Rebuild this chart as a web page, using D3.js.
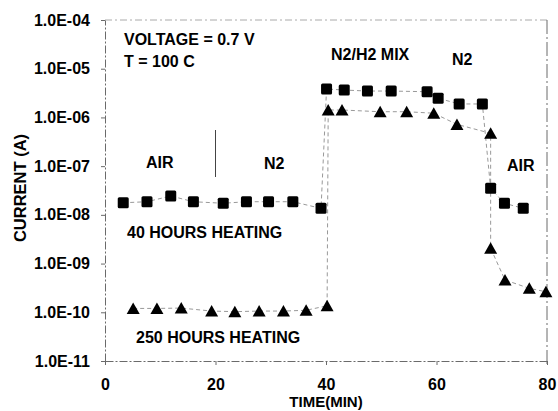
<!DOCTYPE html>
<html>
<head>
<meta charset="utf-8">
<script src="https://cdn.jsdelivr.net/npm/d3@7"></script>
<style>
  body { margin: 0; background: #fff; }
  svg { display: block; font-family: "Liberation Sans", Arial, sans-serif; font-weight: bold; }
</style>
</head>
<body>
<svg id="chart" width="558" height="411"></svg>
<script>
// data
var time40 = [3.3, 7.6, 11.9, 16.0, 21.4, 25.6, 29.6, 34.0, 39.1, 40.1, 43.3, 47.5, 51.8, 58.3, 60.3, 64.1, 68.3, 69.8, 72.3, 75.7];
var current40 = [1.77e-8, 1.86e-8, 2.44e-8, 1.86e-8, 1.73e-8, 1.86e-8, 1.86e-8, 1.86e-8, 1.36e-8,
  3.83e-6, 3.65e-6, 3.48e-6, 3.48e-6, 3.37e-6, 2.47e-6, 1.89e-6, 1.89e-6, 3.5e-8, 1.73e-8, 1.36e-8];
var time250 = [5.1, 9.4, 13.8, 19.3, 23.5, 27.9, 32.3, 36.4, 40.2, 40.4, 42.9, 49.8, 54.6, 59.5, 63.7, 69.8, 69.8, 72.4, 76.8, 79.8];
var current250 = [1.2e-10, 1.2e-10, 1.22e-10, 1.06e-10, 1.03e-10, 1.06e-10, 1.06e-10, 1.1e-10, 1.36e-10,
  1.42e-6, 1.42e-6, 1.31e-6, 1.31e-6, 1.22e-6, 7.2e-7, 4.72e-7, 2.06e-9, 4.6e-10, 3.1e-10, 2.64e-10];
var xTicks = [0, 20, 40, 60, 80];
var yTicks = [1e-11, 1e-10, 1e-9, 1e-8, 1e-7, 1e-6, 1e-5, 1e-4];

var svg = d3.select('#chart');
var x = d3.scaleLinear().domain([0, 80]).range([105, 547]);
var y = d3.scaleLog().domain([1e-11, 1e-4]).range([361, 20]);

var axisColor = '#6a6a6a';

// frame
svg.append('line').attr('x1', 105).attr('x2', 547).attr('y1', 20).attr('y2', 20)
  .attr('stroke', '#aaa').attr('stroke-dasharray', '7,3,2,3');
svg.append('line').attr('x1', 547).attr('x2', 547).attr('y1', 20).attr('y2', 365)
  .attr('stroke', axisColor).attr('stroke-dasharray', '14,3,2,3');

// axes
var yAxis = d3.axisLeft(y).tickValues(yTicks).tickSize(4).tickSizeOuter(0).tickPadding(11)
  .tickFormat(function(d) {
    var e = Math.round(Math.log10(d));
    return '1.0E-' + (Math.abs(e) < 10 ? '0' : '') + Math.abs(e);
  });
var gy = svg.append('g').attr('transform', 'translate(105,0)').call(yAxis);

var xAxis = d3.axisBottom(x).tickValues(xTicks).tickSize(4).tickSizeOuter(0).tickPadding(14);
var gx = svg.append('g').attr('transform', 'translate(0,361)').call(xAxis);

[gx, gy].forEach(function(g) {
  g.select('.domain').attr('stroke', axisColor).attr('stroke-dasharray', '8,2,2,2');
  g.selectAll('.tick line').attr('stroke', axisColor);
  g.selectAll('.tick text').attr('fill', '#000').style('font-size', '16px').style('font-weight', 'bold')
    .style('font-family', '"Liberation Sans", Arial, sans-serif');
});

// axis titles
svg.append('text').attr('x', 326).attr('y', 407).attr('text-anchor', 'middle')
  .style('font-size', '15px').text('TIME(MIN)');
svg.append('text').attr('transform', 'translate(26,188) rotate(-90)').attr('text-anchor', 'middle')
  .style('font-size', '16.5px').text('CURRENT (A)');

// series lines
var line = d3.line().x(function(d) { return x(d[0]); }).y(function(d) { return y(d[1]); });
var pts40 = d3.zip(time40, current40);
var pts250 = d3.zip(time250, current250);
[pts40, pts250].forEach(function(pts) {
  svg.append('path').datum(pts).attr('d', line).attr('fill', 'none')
    .attr('stroke', '#999').attr('stroke-width', 1).attr('stroke-dasharray', '4,3');
});

// markers
svg.selectAll('.sq').data(pts40).enter().append('rect')
  .attr('class', 'sq')
  .attr('x', function(d) { return x(d[0]) - 5.5; })
  .attr('y', function(d) { return y(d[1]) - 5.5; })
  .attr('width', 11).attr('height', 11).attr('rx', 1.5)
  .attr('fill', '#000');

svg.selectAll('.tri').data(pts250).enter().append('path')
  .attr('class', 'tri')
  .attr('d', function(d) {
    var cx = x(d[0]), cy = y(d[1]);
    return 'M' + (cx - 6.5) + ',' + (cy + 5.5) + 'L' + cx + ',' + (cy - 6) + 'L' + (cx + 6.5) + ',' + (cy + 5.5) + 'Z';
  })
  .attr('fill', '#000');

// separator between AIR and N2
svg.append('line').attr('x1', x(20)).attr('x2', x(20)).attr('y1', 130).attr('y2', 177)
  .attr('stroke', '#444');

// annotations
var notes = [
  ['VOLTAGE = 0.7 V', 124, 45],
  ['T = 100 C', 124, 67],
  ['AIR', 146, 168],
  ['N2', 264, 169],
  ['N2/H2 MIX', 331, 60],
  ['N2', 452, 65],
  ['AIR', 507, 171],
  ['40 HOURS HEATING', 127, 238],
  ['250 HOURS HEATING', 136, 343]
];
svg.selectAll('.note').data(notes).enter().append('text')
  .attr('class', 'note')
  .attr('x', function(d) { return d[1]; })
  .attr('y', function(d) { return d[2]; })
  .style('font-size', '16px')
  .text(function(d) { return d[0]; });
</script>
</body>
</html>
